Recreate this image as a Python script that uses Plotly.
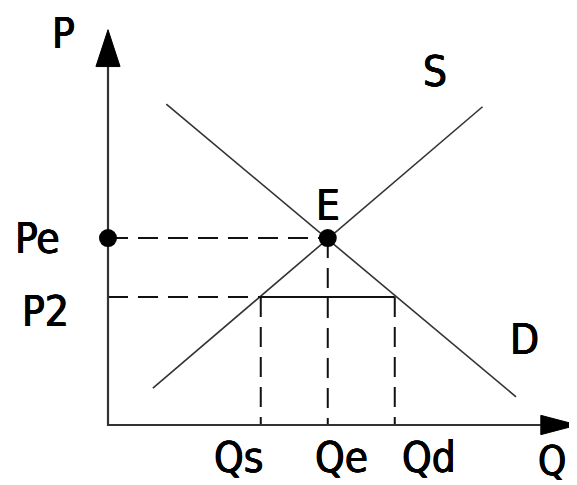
import plotly.graph_objects as go

# Data (Q and P in chart units)
supply_q = [0.67, 5.59]
supply_p = [0.55, 4.75]
demand_q = [0.87, 6.09]
demand_p = [4.79, 0.42]
Qs, Qe, Qd = 2.28, 3.28, 4.28
Pe, P2 = 2.79, 1.91
q_axis_max = 7.01
p_axis_max = 5.90
arrow_len = 0.55
arrow_half = 0.18

FONT = "DejaVu Sans Condensed, Liberation Sans Narrow, Roboto, sans-serif"
dark = "#333333"
SHADOW = "0.6px 0 0 black, -0.6px 0 0 black, 0 0.4px 0 black"

fig = go.Figure()

# Supply and demand lines
fig.add_trace(go.Scatter(x=supply_q, y=supply_p, mode="lines",
                         line=dict(color=dark, width=1.6), hoverinfo="skip"))
fig.add_trace(go.Scatter(x=demand_q, y=demand_p, mode="lines",
                         line=dict(color=dark, width=1.6), hoverinfo="skip"))

dash = "20px,10px"
# Dashed guides
fig.add_trace(go.Scatter(x=[0, Qe], y=[Pe, Pe], mode="lines",
                         line=dict(color="#111", width=2, dash=dash), hoverinfo="skip"))
fig.add_trace(go.Scatter(x=[0, Qs], y=[P2, P2], mode="lines",
                         line=dict(color="#111", width=2, dash=dash), hoverinfo="skip"))
fig.add_trace(go.Scatter(x=[Qs, Qd], y=[P2, P2], mode="lines",
                         line=dict(color="#111", width=2), hoverinfo="skip"))
for q, p in [(Qs, P2), (Qe, Pe), (Qd, P2)]:
    fig.add_trace(go.Scatter(x=[q, q], y=[p, 0], mode="lines",
                             line=dict(color="#111", width=2, dash=dash), hoverinfo="skip"))

# Axes
fig.add_trace(go.Scatter(x=[0, 0, q_axis_max - arrow_len], y=[p_axis_max - arrow_len, 0, 0],
                         mode="lines", line=dict(color=dark, width=2.2), hoverinfo="skip"))
fig.add_trace(go.Scatter(x=[-arrow_half, 0, arrow_half, -arrow_half],
                         y=[p_axis_max - arrow_len, p_axis_max, p_axis_max - arrow_len, p_axis_max - arrow_len],
                         mode="lines", fill="toself", fillcolor="black",
                         line=dict(color="black", width=1), hoverinfo="skip"))
fig.add_trace(go.Scatter(x=[q_axis_max - arrow_len, q_axis_max, q_axis_max - arrow_len, q_axis_max - arrow_len],
                         y=[-arrow_half * 0.8, 0, arrow_half * 0.8, -arrow_half * 0.8],
                         mode="lines", fill="toself", fillcolor="black",
                         line=dict(color="black", width=1), hoverinfo="skip"))

# Points
fig.add_trace(go.Scatter(x=[0, Qe], y=[Pe, Pe], mode="markers",
                         marker=dict(color="black", size=18), hoverinfo="skip"))

labels = [
    ("P", -0.67, 5.85, 42),
    ("Pe", -1.05, Pe, 42),
    ("P2", -0.94, 1.69, 42),
    ("Qs", Qs - 0.33, -0.49, 42),
    ("Qe", Qe + 0.21, -0.49, 42),
    ("Qd", Qd + 0.51, -0.49, 42),
    ("Q", 6.63, -0.54, 40),
    ("S", 4.88, 5.27, 42),
    ("D", 6.21, 1.27, 42),
    ("E", Qe, 3.28, 42),
]
for t, x, y, s in labels:
    fig.add_annotation(x=x, y=y, text=t, showarrow=False,
                       font=dict(family=FONT, size=s, color="black", shadow=SHADOW),
                       xanchor="center", yanchor="middle")

fig.update_layout(
    width=569, height=485,
    margin=dict(l=0, r=0, t=0, b=0),
    paper_bgcolor="white", plot_bgcolor="white",
    showlegend=False,
    xaxis=dict(range=[-1.4925, 7.0], visible=False, fixedrange=True),
    yaxis=dict(range=[-1.015, 6.224], visible=False, fixedrange=True),
)

fig.write_html("out.html")
